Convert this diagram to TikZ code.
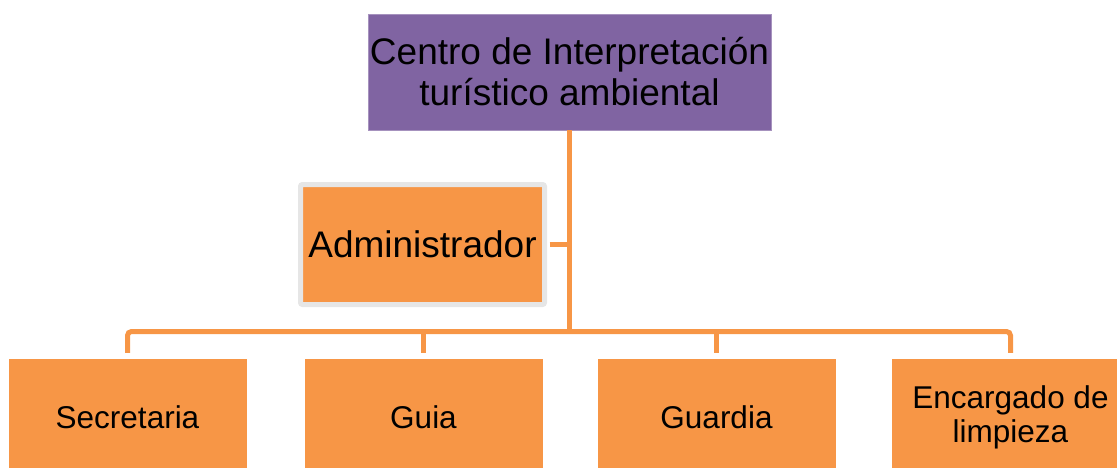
\documentclass[tikz,border=0pt]{standalone}
\usepackage{fontspec}
\setmainfont{Liberation Sans}
\definecolor{purp}{HTML}{8064A2}
\definecolor{orng}{HTML}{F79646}
\definecolor{lgray}{HTML}{E6E6E6}
\tikzset{
  topbox/.style={fill=purp, draw=purp!70!white, line width=0.8pt, minimum width=403pt, minimum height=116pt, inner sep=0pt, align=center, font=\fontsize{37}{41}\selectfont},
  adminbox/.style={fill=orng, draw=lgray, line width=5pt, rounded corners=2pt, minimum width=244pt, minimum height=120pt, inner sep=0pt, align=center, font=\fontsize{37}{41}\selectfont},
  staffbox/.style={fill=orng, minimum width=238pt, minimum height=116pt, inner sep=0pt, align=center, font=\fontsize{31.5}{34}\selectfont},
  conn/.style={draw=orng, line width=5pt}
}
\begin{document}
\begin{tikzpicture}[x=1pt,y=-1pt]
\useasboundingbox (0,0) rectangle (1117,467);
\clip (0,0) rectangle (1117,467);
\node[topbox] (top) at (569.5,72) {Centro de Interpretación\\turístico ambiental};
\node[adminbox] (admin) at (422.5,244.5) {Administrador};
\node[staffbox] (s1) at (127.5,417) {Secretaria};
\node[staffbox] (s2) at (423.5,417) {Guia};
\node[staffbox] (s3) at (716.5,417) {Guardia};
\node[staffbox] (s4) at (1010.5,417) {Encargado de\\limpieza};
\coordinate (j) at (569.5,331.5);
\draw[conn] (top.south) -- (j);
\draw[conn] ([xshift=2.5pt]admin.east) -- ([xshift=2.5pt]admin.east -| j);
\draw[conn, rounded corners=4pt] ([yshift=6pt]s1.north) |- (j) -| ([yshift=6pt]s4.north);
\draw[conn] ([yshift=6pt]s2.north) -- (s2.north |- j);
\draw[conn] ([yshift=6pt]s3.north) -- (s3.north |- j);
\end{tikzpicture}
\end{document}
